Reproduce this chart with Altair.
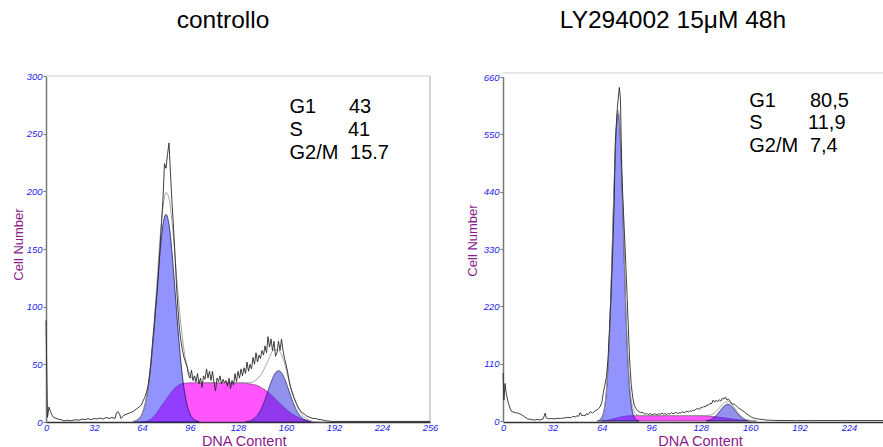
import altair as alt
import pandas as pd

FONT = "Liberation Sans"
LABEL_BLUE = "#2424ee"
PURPLE = "#8b1a8b"

# ---------------- left panel: controllo ----------------
L_raw_x = [0, 1, 2, 3, 4, 5, 6, 8, 10, 12, 14, 16, 18, 20, 22, 24, 26, 28, 30, 32, 34, 36, 38, 40, 42, 44, 46, 47, 48, 49, 50,
           52, 54, 56, 58, 60, 62, 63, 64, 65, 66, 67, 68, 69, 70, 71, 72, 73, 74, 75, 76, 77, 78, 79, 80, 81, 82, 83, 84,
           85, 86, 87, 88, 89, 90, 91, 92, 93, 94, 95, 96, 97, 98, 99, 100, 101, 102, 103, 104, 105, 106, 107, 108, 109,
           110, 111, 112, 113, 114, 115, 116, 117, 118, 119, 120, 121, 122, 123, 124, 125, 126, 127, 128, 129, 130, 131,
           132, 133, 134, 135, 136, 137, 138, 139, 140, 141, 142, 143, 144, 145, 146, 147, 148, 149, 150, 151, 152, 153,
           154, 155, 156, 157, 158, 159, 160, 161, 162, 163, 164, 165, 166, 167, 168, 169, 170, 171, 172, 173, 174, 176,
           178, 180, 182, 184, 186, 188, 190, 256]
L_raw_y = [88, 4, 13, 9, 6, 4, 3.5, 2.5, 2, 1, 1.5, 1, 1.5, 2, 1.5, 2.5, 2, 3, 2, 3, 2.5, 3.5, 2.5, 4, 3, 4, 3, 8, 9, 7, 3,
           6, 7, 8, 9, 11, 13, 14, 16, 19, 22, 26, 31, 40, 52, 68, 82, 98, 112, 130, 151, 172, 194, 224, 220, 232, 242, 215,
           190, 169, 145, 118, 97, 80, 70, 62, 56, 52, 48, 41, 38, 45, 36, 40, 35, 42, 33, 38, 30, 40, 37, 46, 38, 44, 36,
           44, 34, 27, 38, 35, 40, 33, 37, 34, 36, 31, 38, 29, 36, 32, 42, 35, 44, 38, 46, 40, 47, 42, 52, 44, 50, 46, 56,
           50, 60, 52, 58, 55, 62, 58, 66, 60, 74, 65, 72, 62, 70, 57, 60, 70, 62, 72, 62, 55, 50, 44, 36, 30, 26, 22, 19,
           16, 13, 11, 9, 8, 7, 6, 5, 4, 3, 3, 2, 2, 1, 1, 0.5, 0.5]

L_fit_x = [58, 60, 62, 64, 66, 68, 70, 72, 74, 76, 78, 80, 82, 84, 86, 88, 90, 92, 94, 96, 98, 100, 102, 136, 140, 144,
           148, 152, 155, 158, 162, 166, 170, 174, 178, 182, 186]
L_fit_y = [0.4, 1.2, 3, 7, 15.5, 30, 53.5, 85, 122, 159, 186.5, 199, 194, 173.5, 143.5, 111.5, 84, 62.5, 48.5, 41, 37,
           35.2, 34.4, 34, 36.5, 42.5, 53, 62.7, 62, 55, 36, 18.5, 7.5, 2.4, 0.5, 0.2, 0]

L_g1_x = [58, 60, 62, 64, 66, 68, 70, 72, 74, 76, 78, 80, 82, 84, 86, 88, 90, 92, 94, 96, 98, 100, 102]
L_g1_y = [0.4, 1.2, 3, 7, 15, 29, 51, 80, 114, 147, 171, 180, 171, 147, 114, 80, 51, 29, 15, 7, 3, 1.2, 0.4]

L_s_x = [64, 66, 68, 70, 72, 74, 76, 78, 80, 82, 84, 86, 88, 90, 92, 96, 100, 110, 120, 130, 136, 140, 144, 148, 152,
         156, 160, 164, 168, 172, 176, 180]
L_s_y = [0, 0.5, 1, 2.5, 5, 8, 12, 15.5, 19, 23, 26.5, 29.5, 31.5, 33, 33.5, 34, 34, 34, 34, 34, 33, 32, 29.5, 26, 21,
         16, 11, 7, 4, 2, 0.8, 0]

L_g2_x = [133, 135, 137, 139, 141, 143, 145, 147, 149, 151, 153, 155, 157, 159, 161, 163, 165, 167, 169, 171, 173, 175, 177]
L_g2_y = [0.3, 0.7, 1.6, 3.3, 6, 10.2, 16, 23.2, 30.8, 37.8, 42.7, 44.5, 42.7, 37.8, 30.8, 23.2, 16, 10.2, 6, 3.3, 1.6,
          0.7, 0.3]

L_x_ticks = [0, 32, 64, 96, 128, 160, 192, 224, 256]
L_y_ticks = [0, 50, 100, 150, 200, 250, 300]
L_labels = ["G1", "S", "G2/M", "43", "41", "15.7"]
L_label_x = [162.3, 162.3, 162.3, 202, 201.3, 202.7]
L_label_y = [268, 247.6, 227.7, 268, 247.6, 227.7]

# ---------------- right panel: LY294002 ----------------
R_raw_x = [0, 0.6, 1.3, 2, 3, 3.5, 4.5, 5.6, 7, 8, 10, 12, 14, 16, 18, 20, 21, 22, 24, 26, 27.3, 28, 29.4, 31, 33, 35, 37,
           38, 40, 42, 44, 45, 46.8, 48, 49, 50, 51, 52, 53.2, 54, 55, 56.5, 58, 59, 60.8, 62, 63, 64, 65, 66, 67, 68, 69,
           70, 71, 72, 72.7, 73, 74, 75.3, 76, 77, 78, 79, 80, 81, 82, 83, 84, 85, 86, 87, 88, 89, 90, 91, 92, 93, 94,
           95, 96, 97, 98, 99, 100, 101, 102, 103, 104, 105, 106, 107, 108, 109, 110, 111, 112, 113, 114, 115, 116,
           117, 118, 119, 120, 121, 122, 123, 124, 125, 126, 127, 128, 129, 130, 131, 132, 133, 134, 135, 136, 137,
           138, 139, 140, 141, 142, 143, 144, 145, 146, 147, 148, 150, 152, 154, 156, 158, 160, 161, 162, 163, 164,
           165, 166, 168, 170, 172, 174, 176, 180, 190, 200, 220, 246]
R_raw_y = [92, 40, 72, 55, 40, 34, 25, 18, 17, 16, 15, 12, 8, 4, 3, 2, 2, 3, 2, 4, 15, 6, 4, 5, 4, 5, 5,
           5, 6, 7, 6, 9, 8, 10, 9, 16, 10, 11, 10, 14, 12, 18, 15, 18, 21, 24, 28, 36, 55, 70, 85, 120, 180,
           245, 325, 420, 536, 550, 600, 640, 620, 470, 400, 335, 265, 190, 115, 70, 45, 30, 24, 20, 18, 16, 17, 15, 13,
           15, 12, 14, 13, 12, 14, 13, 12, 14, 13, 15, 13, 14, 12, 15, 13, 16, 14, 15, 17, 14, 16, 15, 18,
           16, 17, 19, 17, 20, 18, 21, 20, 23, 24, 22, 26, 25, 28, 27, 31, 30, 34, 33, 40, 36,
           40, 37, 41, 38, 44, 42, 46, 40, 42, 38, 33, 32, 26, 22, 18, 13, 9, 7, 6, 5, 4.5,
           4, 3.5, 3, 2, 1.5, 1.5, 1, 1, 0.8, 0.8, 0.8, 0.8]

R_fit_x = [61, 62, 63, 64, 65, 66, 67, 68, 69, 70, 71, 72, 73, 74, 74.5, 75, 76, 77, 78, 79, 80, 81, 82, 83, 84, 85, 86,
           88, 90, 128, 132, 134, 136, 138, 140, 142, 144, 146, 148, 150, 152, 154, 156, 158, 160, 164]
R_fit_y = [0.35, 1.2, 3.5, 7.6, 16, 32, 61, 107, 174, 261, 362, 462, 543, 590, 596, 591, 546, 466, 367, 268, 182, 115, 69,
           41, 26, 17.6, 13, 11, 10.5, 10.2, 10.4, 11.4, 13.8, 18.3, 24.7, 31.4, 36, 36.4, 32.5, 24.3, 16.3, 9.5, 4.9,
           2.3, 1, 0]

R_g1_x = [61, 62, 63, 64, 65, 66, 67, 68, 69, 70, 71, 72, 73, 74, 74.5, 75, 76, 77, 78, 79, 80, 81, 82, 83, 84, 85, 86,
          87, 88]
R_g1_y = [0.35, 1, 2.7, 6.6, 15, 31, 59, 105, 172, 258, 358, 457, 538, 584, 590, 584, 538, 457, 358, 258, 172, 105, 59,
          31, 15, 6.6, 2.7, 1, 0.35]

R_s_x = [64, 66, 68, 70, 72, 74, 76, 78, 80, 82, 86, 128, 132, 136, 140, 144, 148, 152, 156, 160, 164]
R_s_y = [0, 0.5, 1.5, 3, 4.5, 6, 7.5, 8.8, 9.6, 10, 10.2, 10.2, 9.6, 8.6, 7.2, 5.6, 4, 2.6, 1.4, 0.5, 0]

R_g2_x = [131.5, 133.5, 135.5, 137.5, 139.5, 141.5, 143.5, 145.5, 147.5, 149.5, 151.5, 153.5, 155.5, 157.5, 159.5]
R_g2_y = [0.6, 1.8, 4.3, 8.9, 15.6, 23.2, 29.5, 32, 29.5, 23.2, 15.6, 8.9, 4.3, 1.8, 0.6]

R_x_ticks = [0, 32, 64, 96, 128, 160, 192, 224]
R_y_ticks = [0, 110, 220, 330, 440, 550, 660]
R_labels = ["G1", "S", "G2/M", "80,5", "11,9", "7,4"]
R_label_x = [159.4, 159.4, 159.4, 198.7, 197.5, 198.7]
R_label_y = [603.4, 560.2, 516.1, 603.4, 560.2, 516.1]

TITLES = ["controllo", "LY294002 15\u03bcM 48h"]


def frame(xs, ys):
    return pd.DataFrame({"x": xs, "y": ys})


def panel(raw, fit, g1, s, g2, xdom, xrange, ydom, yrange, xticks, yticks,
          xtitle_x, ytitle_x, ytitle_y, yoffset, labels, title, title_xy,
          top_border, right_border):
    X = alt.X("x:Q", scale=alt.Scale(domain=xdom, range=xrange, nice=False),
              axis=alt.Axis(orient="bottom", values=xticks, title="DNA Content",
                            titleX=xtitle_x, titleY=23.5, titleBaseline="alphabetic",
                            titleAlign="center", titleFont=FONT, titleFontSize=14.5,
                            titleFontWeight="normal", titleColor=PURPLE,
                            labelFont=FONT, labelFontSize=9.3, labelFontStyle="italic",
                            labelColor=LABEL_BLUE, labelPadding=1, ticks=False, tickSize=0,
                            domainColor="#333333", domainWidth=1.5, grid=False,
                            labelFlush=False, labelOverlap=False, labelBound=False))
    Y = alt.Y("y:Q", scale=alt.Scale(domain=ydom, range=yrange, nice=False),
              axis=alt.Axis(orient="left", offset=yoffset, values=yticks, title="Cell Number",
                            titleX=ytitle_x, titleY=ytitle_y, titleAngle=270,
                            titleBaseline="alphabetic", titleAlign="center", titleFont=FONT,
                            titleFontSize=13, titleFontWeight="normal", titleColor=PURPLE,
                            labelFont=FONT, labelFontSize=9.5, labelFontStyle="italic",
                            labelColor=LABEL_BLUE, labelPadding=1, tickSize=3,
                            tickColor="#777777", domainColor="#777777", domainWidth=1.5,
                            grid=False, labelFlush=False, labelOverlap=False, labelBound=False))

    s_area = alt.Chart(s).mark_area(color="#ff55ff", stroke="#6a2a6a", strokeWidth=0.6,
                                    interpolate="monotone").encode(x=X, y=Y)
    g1_area = alt.Chart(g1).mark_area(fill="#2828ff", fillOpacity=0.5, stroke="#1a1a50",
                                      strokeWidth=0.8, interpolate="monotone").encode(x=X, y=Y)
    g2_area = alt.Chart(g2).mark_area(fill="#1c1cdc", fillOpacity=0.48, stroke="#20205a",
                                      strokeWidth=0.7, interpolate="monotone").encode(x=X, y=Y)
    fit_line = alt.Chart(fit).mark_line(color="#9a9a9a", strokeWidth=0.9,
                                        interpolate="monotone").encode(x=X, y=Y)
    raw_line = alt.Chart(raw).mark_line(color="#2a2a2a", strokeWidth=0.9).encode(x=X, y=Y)

    txt = alt.Chart(labels).mark_text(font=FONT, fontSize=20, align="left",
                                      baseline="alphabetic", color="#000000").encode(
        x=X, y=Y, text="label:N")
    ttl = alt.Chart(pd.DataFrame({"x": [title_xy[0]], "y": [title_xy[1]], "label": [title]})).mark_text(
        font=FONT, fontSize=24.5, align="center", baseline="alphabetic", color="#000000").encode(
        x=X, y=Y, text="label:N")

    top = alt.Chart(pd.DataFrame({"x": [top_border[0]], "x2": [top_border[1]], "y": [top_border[2]]})).mark_rule(
        color="#cfcfcf", strokeWidth=1).encode(x=X, x2="x2:Q", y=Y)
    layers = [top]
    if right_border is not None:
        rb = alt.Chart(pd.DataFrame({"x": [right_border[0]], "y": [right_border[1]],
                                     "y2": [right_border[2]]})).mark_rule(
            color="#a8a8a8", strokeWidth=1).encode(x=X, y=Y, y2="y2:Q")
        layers.append(rb)
    layers += [s_area, g1_area, g2_area, fit_line, raw_line, txt, ttl]
    return alt.layer(*layers)


left = panel(frame(L_raw_x, L_raw_y), frame(L_fit_x, L_fit_y), frame(L_g1_x, L_g1_y),
             frame(L_s_x, L_s_y), frame(L_g2_x, L_g2_y),
             [0, 256], [0, 384], [0, 300], [346, 0], L_x_ticks, L_y_ticks,
             197.7, -23.8, 168, 0,
             pd.DataFrame({"x": L_label_x, "y": L_label_y, "label": L_labels}),
             TITLES[0], (118, 341.7), (0, 256, 300), (256, 0, 300))

right = panel(frame(R_raw_x, R_raw_y), frame(R_fit_x, R_fit_y), frame(R_g1_x, R_g1_y),
              frame(R_s_x, R_s_y), frame(R_g2_x, R_g2_y),
              [0, 246], [457, 837], [0, 660], [345, 1], R_x_ticks, R_y_ticks,
              654, -26.3, 164, -457,
              pd.DataFrame({"x": R_label_x, "y": R_label_y, "label": R_labels}),
              TITLES[1], (110, 754), (0, 246, 667.7), None)

chart = alt.layer(left, right).resolve_scale(
    x="independent", y="independent").resolve_axis(
    x="independent", y="independent").properties(
    width=837, height=346,
    padding={"left": 46, "top": 76, "right": 0, "bottom": 25},
    autosize=alt.AutoSizeParams(type="none"),
    background="white").configure_view(stroke=None)

chart.save("out.html", embed_options={"renderer": "svg", "actions": False})
